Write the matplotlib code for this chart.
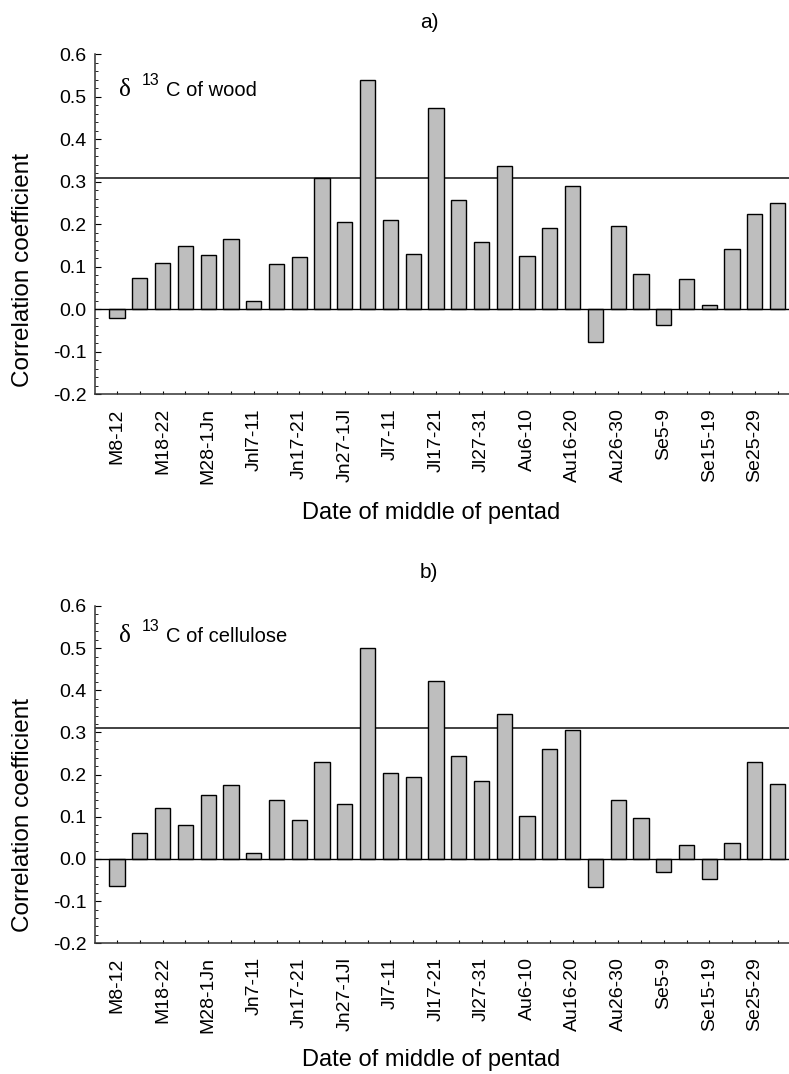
import matplotlib
matplotlib.use("Agg")
import matplotlib.pyplot as plt
import numpy as np

plt.rcParams["font.family"] = ["Liberation Sans", "DejaVu Sans"]

# pentad labels (every second bar is labelled)
labels_a = ["M8-12", "M18-22", "M28-1Jn", "Jnl7-11", "Jn17-21", "Jn27-1Jl", "Jl7-11",
            "Jl17-21", "Jl27-31", "Au6-10", "Au16-20", "Au26-30", "Se5-9", "Se15-19", "Se25-29"]
labels_b = ["M8-12", "M18-22", "M28-1Jn", "Jn7-11", "Jn17-21", "Jn27-1Jl", "Jl7-11",
            "Jl17-21", "Jl27-31", "Au6-10", "Au16-20", "Au26-30", "Se5-9", "Se15-19", "Se25-29"]

# correlation coefficients, 30 pentads
r_wood = [-0.021, 0.074, 0.108, 0.150, 0.128, 0.166, 0.019, 0.106, 0.122, 0.308,
          0.205, 0.540, 0.211, 0.130, 0.473, 0.256, 0.158, 0.336, 0.125, 0.191,
          0.289, -0.076, 0.197, 0.083, -0.038, 0.071, 0.010, 0.141, 0.224, 0.249]
r_cell = [-0.065, 0.062, 0.120, 0.081, 0.151, 0.175, 0.014, 0.140, 0.092, 0.229,
          0.131, 0.500, 0.204, 0.195, 0.421, 0.245, 0.184, 0.345, 0.101, 0.260,
          0.307, -0.067, 0.140, 0.097, -0.030, 0.034, -0.047, 0.039, 0.229, 0.178]
r_signif = 0.31

BAR = "#bebebe"
W, H = 789, 1074

fig = plt.figure(figsize=(W / 100, H / 100), dpi=100)


def ftext(x, y, s, **kw):
    # place text by pixel position (y measured from the top)
    return fig.text(x / W, 1 - y / H, s, **kw)


def panel(ax, values, labels, tag, material, title_y, note_y, ylab_y, xlab_y):
    x = np.arange(len(values))
    ax.bar(x, values, width=0.67, color=BAR, edgecolor="black", linewidth=1.0, zorder=2)
    ax.axhline(0, color="black", linewidth=1.0, zorder=3)
    ax.axhline(r_signif, color="#333333", linewidth=1.3, zorder=1)
    ax.set_xlim(-0.97, 29.5)
    ax.set_ylim(-0.2, 0.6)

    ax.set_xticks(x[::2])
    ax.set_xticklabels(labels, rotation=90, fontsize=14)
    ax.set_xticks(x, minor=True)
    yt = np.arange(-0.2, 0.61, 0.1)
    ax.set_yticks(yt)
    ax.set_yticklabels([f"{v:.1f}" for v in yt], fontsize=14)
    ax.set_yticks(np.arange(-0.2, 0.61, 0.02), minor=True)
    ax.tick_params(axis="x", which="both", direction="in", length=2.5, width=0.8, pad=10)
    ax.tick_params(axis="y", which="major", direction="in", length=4, width=0.8, pad=6)
    ax.tick_params(axis="y", which="minor", direction="in", length=2, width=0.6)
    for s in ("top", "right"):
        ax.spines[s].set_visible(False)
    for s in ("left", "bottom"):
        ax.spines[s].set_linewidth(1.1)
        ax.spines[s].set_color("#333333")

    ftext(431, xlab_y, "Date of middle of pentad", ha="center", va="baseline", fontsize=17)
    ftext(23, ylab_y, "Correlation coefficient", rotation=90,
          ha="center", va="center", fontsize=17.5)
    ftext(429, title_y, tag, ha="center", va="center", fontsize=15)
    ftext(119, note_y, "\u03b4", family="Liberation Serif", ha="left", va="baseline", fontsize=18)
    ftext(142, note_y - 11, "13", ha="left", va="baseline", fontsize=11.5)
    ftext(166, note_y, material, ha="left", va="baseline", fontsize=14.5)


ax_a = fig.add_axes([95 / W, 1 - 394.3 / H, 1 - 95 / W, 340 / H])
ax_b = fig.add_axes([95 / W, 1 - 943.3 / H, 1 - 95 / W, 337.3 / H])

panel(ax_a, r_wood, labels_a, "a)", "C of wood", 23, 96, 270, 519)
panel(ax_b, r_cell, labels_b, "b)", "C of cellulose", 573, 642, 815, 1066)

fig.savefig("out.png", dpi=100)
